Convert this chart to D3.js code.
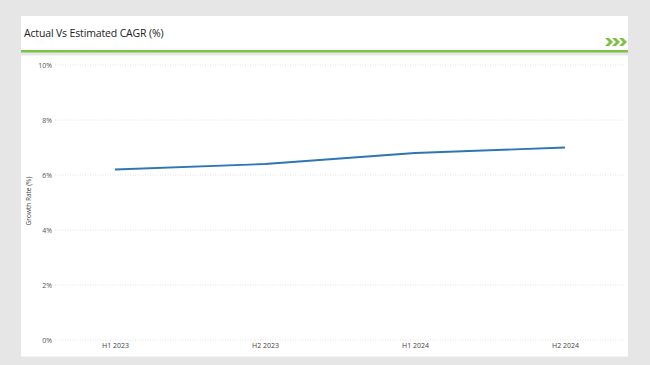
<!DOCTYPE html>
<html>
<head>
<meta charset="utf-8">
<script src="https://cdn.jsdelivr.net/npm/d3@7"></script>
<style>
  body { margin: 0; background: #e6e6e6; }
  svg { display: block; font-family: "Open Sans", "Liberation Sans", sans-serif; }
</style>
</head>
<body>
<script>
// chart data
const periods = ["H1 2023", "H2 2023", "H1 2024", "H2 2024"];
const growth = [6.2, 6.4, 6.8, 7.0];
const yTicks = [0, 2, 4, 6, 8, 10];
// ----------

const w = 650, h = 365;
const svg = d3.select("body").append("svg").attr("width", w).attr("height", h);

// header panel
svg.append("rect").attr("x", 21).attr("y", 16).attr("width", 607).attr("height", 36).attr("fill", "#fff");
svg.append("text").text("Actual Vs Estimated CAGR (%)")
  .attr("x", 24).attr("y", 37).attr("font-size", 10.5).attr("letter-spacing", -0.15).attr("fill", "#222");
svg.append("rect").attr("x", 21).attr("y", 50).attr("width", 607).attr("height", 2.5).attr("fill", "#7cc243");

// chevrons
const chev = svg.append("g").attr("fill", "#7cc243");
[605, 612, 619].forEach((x) => {
  chev.append("path").attr("d", `M${x},38 L${x + 4},38 L${x + 8},42 L${x + 4},46 L${x},46 L${x + 4},42 Z`);
});

// chart panel
svg.append("rect").attr("x", 21).attr("y", 55.5).attr("width", 607).attr("height", 301).attr("fill", "#fff");

const x = d3.scalePoint().domain(periods).range([40, 640]).padding(0.5);
const y = d3.scaleLinear().domain([0, 10]).range([340, 65]);

// grid
svg.append("g").selectAll("line").data(yTicks).enter().append("line")
  .attr("x1", 55).attr("x2", 625)
  .attr("y1", (d) => y(d)).attr("y2", (d) => y(d))
  .attr("stroke", "#d9d9d9").attr("stroke-width", 0.8).attr("stroke-dasharray", "1,1.5");

// y axis
const yAxis = svg.append("g").attr("transform", "translate(52,0)")
  .call(d3.axisLeft(y).tickValues(yTicks).tickFormat((d) => d + "%").tickSize(0).tickPadding(0));
yAxis.select(".domain").remove();
yAxis.selectAll("text").attr("font-size", 7).attr("fill", "#555").attr("font-family", "Open Sans, sans-serif");

// x axis
const xAxis = svg.append("g").attr("transform", "translate(0,343)")
  .call(d3.axisBottom(x).tickSize(0).tickPadding(0));
xAxis.select(".domain").remove();
xAxis.selectAll("text").attr("font-size", 7).attr("fill", "#444").attr("font-family", "Open Sans, sans-serif");

// y title
svg.append("text").text("Growth Rate (%)")
  .attr("transform", "translate(31,201) rotate(-90)")
  .attr("text-anchor", "middle").attr("font-size", 6.5).attr("fill", "#444");

// line
const line = d3.line().x((d, i) => x(periods[i])).y((d) => y(d));
svg.append("path").datum(growth)
  .attr("d", line).attr("fill", "none")
  .attr("stroke", "#2e75b6").attr("stroke-width", 1.8);
</script>
</body>
</html>
